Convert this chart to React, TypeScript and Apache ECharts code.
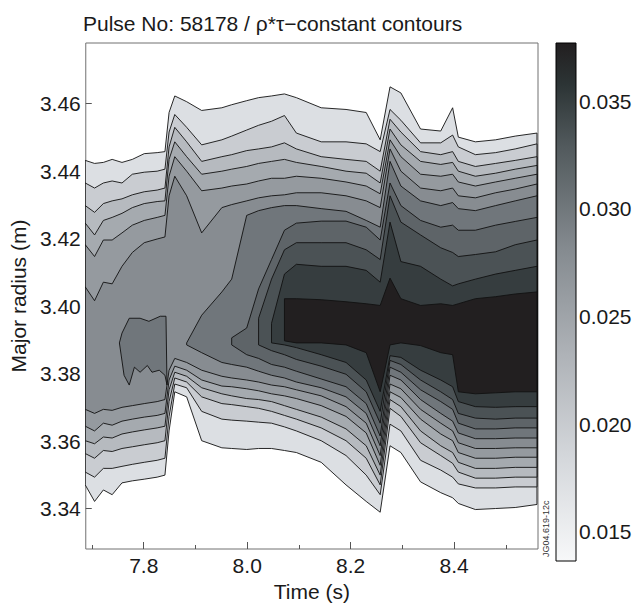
import React, { useEffect, useRef } from "react";
import * as echarts from "echarts";

// ---------------- data ----------------
const TIMES = [7.687, 7.705, 7.722, 7.739, 7.758, 7.778, 7.801, 7.826, 7.841, 7.849, 7.86, 7.883, 7.912, 7.951, 7.97, 7.999, 8.022, 8.047, 8.072, 8.095, 8.143, 8.191, 8.23, 8.257, 8.276, 8.297, 8.335, 8.374, 8.397, 8.408, 8.441, 8.48, 8.518, 8.56];

// upper boundaries (major radius, m) of each contour level region
const UPPER_L1 = [3.4432, 3.4423, 3.4426, 3.4435, 3.4426, 3.4435, 3.4452, 3.4455, 3.4458, 3.4574, 3.4623, 3.4606, 3.458, 3.4588, 3.4597, 3.4609, 3.4618, 3.4623, 3.4629, 3.4618, 3.4588, 3.4583, 3.4574, 3.4493, 3.465, 3.4632, 3.4525, 3.4519, 3.4588, 3.4501, 3.4487, 3.4493, 3.4504, 3.4513];
const UPPER_L2 = [3.4365, 3.435, 3.4365, 3.4371, 3.4365, 3.4391, 3.4397, 3.44, 3.4406, 3.4516, 3.4568, 3.453, 3.4478, 3.4493, 3.4504, 3.4522, 3.4536, 3.4548, 3.4565, 3.4513, 3.4487, 3.4487, 3.4481, 3.4458, 3.4583, 3.4551, 3.4484, 3.4484, 3.4507, 3.4472, 3.4449, 3.4455, 3.4466, 3.4481];
const UPPER_L3 = [3.4298, 3.4278, 3.4304, 3.4312, 3.4318, 3.433, 3.4339, 3.4344, 3.435, 3.4472, 3.453, 3.4487, 3.4429, 3.4443, 3.4449, 3.4461, 3.4466, 3.4472, 3.4484, 3.4466, 3.4443, 3.4435, 3.4429, 3.44, 3.4554, 3.4516, 3.4458, 3.4449, 3.4458, 3.4429, 3.4414, 3.4423, 3.4432, 3.4443];
const UPPER_L4 = [3.4246, 3.4211, 3.4254, 3.4263, 3.4275, 3.4292, 3.4304, 3.431, 3.4312, 3.4435, 3.4487, 3.4443, 3.4391, 3.44, 3.4406, 3.4414, 3.4423, 3.4429, 3.4435, 3.4426, 3.4414, 3.44, 3.4394, 3.4365, 3.4525, 3.4478, 3.4429, 3.442, 3.4426, 3.44, 3.4385, 3.4394, 3.4406, 3.4417];
const UPPER_L5 = [3.4182, 3.4147, 3.4196, 3.4196, 3.4217, 3.424, 3.4254, 3.4263, 3.4269, 3.4385, 3.4443, 3.44, 3.4342, 3.435, 3.4356, 3.4362, 3.4371, 3.4379, 3.4379, 3.4385, 3.4379, 3.4368, 3.4356, 3.4333, 3.4493, 3.4443, 3.4391, 3.4385, 3.4391, 3.4368, 3.4356, 3.4368, 3.4379, 3.4391];
const UPPER_L6 = [3.4057, 3.4016, 3.4071, 3.4066, 3.4118, 3.4159, 3.4188, 3.4199, 3.4205, 3.4327, 3.4385, 3.4327, 3.4217, 3.4292, 3.4301, 3.4312, 3.4321, 3.4327, 3.433, 3.4336, 3.4336, 3.4327, 3.4312, 3.4292, 3.4466, 3.44, 3.435, 3.4342, 3.435, 3.4327, 3.4321, 3.4336, 3.4347, 3.4362];
const UPPER_L7 = [null, null, null, null, null, null, null, null, null, null, null, 3.3891, 3.3973, 3.4042, 3.408, 3.4269, 3.4283, 3.4292, 3.4298, 3.4298, 3.4289, 3.4281, 3.4254, 3.4234, 3.4429, 3.4356, 3.4312, 3.4298, 3.4307, 3.4289, 3.4283, 3.4298, 3.4312, 3.4327];
const UPPER_L8 = [null, null, null, null, null, null, null, null, null, null, null, null, null, null, 3.3906, 3.3935, 3.4051, 3.4138, 3.4225, 3.4246, 3.4252, 3.4252, 3.4234, 3.4196, 3.4365, 3.4298, 3.4254, 3.4234, 3.424, 3.4225, 3.4225, 3.424, 3.4251, 3.4263];
const UPPER_L9 = [null, null, null, null, null, null, null, null, null, null, null, null, null, null, null, null, 3.3964, 3.408, 3.4167, 3.4188, 3.4188, 3.4188, 3.4167, 3.4138, 3.4327, 3.4249, 3.4211, 3.4173, 3.4159, 3.4147, 3.4153, 3.4161, 3.4182, 3.4196];
const UPPER_L10 = [null, null, null, null, null, null, null, null, null, null, null, null, null, null, null, null, null, 3.3949, 3.4095, 3.4124, 3.4118, 3.4118, 3.4106, 3.4071, 3.4249, 3.4132, 3.4118, 3.408, 3.406, 3.4066, 3.408, 3.4095, 3.4106, 3.4118];
const UPPER_L11 = [null, null, null, null, null, null, null, null, null, null, null, null, null, null, null, null, null, null, 3.4022, 3.4022, 3.4019, 3.4013, 3.4007, 3.4002, 3.4083, 3.4022, 3.4002, 3.4007, 3.4002, 3.4007, 3.4022, 3.4028, 3.4036, 3.4042];

// lower boundaries
const LOWER_L1 = [3.347, 3.3421, 3.3455, 3.3441, 3.3476, 3.3482, 3.3487, 3.3493, 3.3499, 3.363, 3.3746, 3.3731, 3.3601, 3.358, 3.3578, 3.3575, 3.3578, 3.3578, 3.3572, 3.3566, 3.3537, 3.347, 3.3421, 3.3389, 3.3586, 3.3566, 3.3479, 3.3447, 3.3432, 3.3415, 3.3397, 3.34, 3.3403, 3.3412];
const LOWER_L2 = [3.3508, 3.3493, 3.3519, 3.3519, 3.3525, 3.3531, 3.3537, 3.3543, 3.3549, 3.3673, 3.3769, 3.3758, 3.3688, 3.3665, 3.3662, 3.3659, 3.3656, 3.3653, 3.3642, 3.363, 3.3601, 3.3557, 3.3499, 3.3441, 3.365, 3.363, 3.3543, 3.3514, 3.3493, 3.3473, 3.3461, 3.3461, 3.3464, 3.3464];
const LOWER_L3 = [3.3563, 3.3549, 3.3572, 3.3569, 3.3578, 3.3583, 3.3589, 3.3595, 3.3601, 3.3717, 3.3787, 3.3775, 3.3731, 3.3711, 3.3708, 3.3702, 3.3697, 3.3688, 3.3676, 3.3665, 3.3639, 3.3601, 3.3549, 3.347, 3.3697, 3.3673, 3.3595, 3.3557, 3.3534, 3.3508, 3.349, 3.349, 3.3493, 3.3493];
const LOWER_L4 = [3.3601, 3.3592, 3.3612, 3.3609, 3.3621, 3.3627, 3.3633, 3.3639, 3.3644, 3.3752, 3.3804, 3.3792, 3.3758, 3.374, 3.3734, 3.3726, 3.3723, 3.3717, 3.3705, 3.3694, 3.3671, 3.3636, 3.3586, 3.3499, 3.3723, 3.3702, 3.363, 3.3586, 3.3566, 3.3537, 3.3519, 3.3519, 3.3522, 3.3522];
const LOWER_L5 = [3.3644, 3.363, 3.3653, 3.3647, 3.3659, 3.3665, 3.3671, 3.3676, 3.3682, 3.3781, 3.3822, 3.381, 3.3781, 3.3763, 3.3761, 3.3755, 3.3749, 3.374, 3.3734, 3.3726, 3.3705, 3.3673, 3.3624, 3.3528, 3.3746, 3.3729, 3.3665, 3.3621, 3.3601, 3.3566, 3.3549, 3.3549, 3.3552, 3.3552];
const LOWER_L6 = [3.3694, 3.3682, 3.3694, 3.3691, 3.37, 3.3705, 3.3711, 3.3717, 3.3723, 3.381, 3.3845, 3.3833, 3.381, 3.3792, 3.3787, 3.3781, 3.3775, 3.3766, 3.3761, 3.3752, 3.3734, 3.3702, 3.3653, 3.3557, 3.3769, 3.3755, 3.3694, 3.3653, 3.363, 3.3595, 3.3578, 3.3578, 3.358, 3.358];
const LOWER_L7 = [null, null, null, null, null, null, null, null, null, null, null, 3.3885, 3.3862, 3.3833, 3.3827, 3.3819, 3.3807, 3.3795, 3.3787, 3.3775, 3.3758, 3.3731, 3.3682, 3.3586, 3.3795, 3.3781, 3.3723, 3.3682, 3.3659, 3.3624, 3.3607, 3.3607, 3.3609, 3.3609];
const LOWER_L8 = [null, null, null, null, null, null, null, null, null, null, null, null, null, null, 3.3885, 3.3856, 3.3845, 3.3827, 3.3819, 3.3807, 3.3784, 3.3761, 3.3711, 3.3615, 3.3819, 3.3804, 3.3752, 3.3717, 3.3694, 3.3653, 3.3636, 3.3636, 3.3639, 3.3639];
const LOWER_L9 = [null, null, null, null, null, null, null, null, null, null, null, null, null, null, null, null, 3.3885, 3.3868, 3.3856, 3.3842, 3.3822, 3.3798, 3.3746, 3.3653, 3.3839, 3.3827, 3.3781, 3.3746, 3.3723, 3.3682, 3.3668, 3.3665, 3.3668, 3.3668];
const LOWER_L10 = [null, null, null, null, null, null, null, null, null, null, null, null, null, null, null, null, null, 3.3891, 3.3885, 3.3877, 3.3856, 3.3833, 3.3781, 3.3688, 3.3853, 3.3848, 3.381, 3.3781, 3.3761, 3.3717, 3.3702, 3.37, 3.3702, 3.3702];
const LOWER_L11 = [null, null, null, null, null, null, null, null, null, null, null, null, null, null, null, null, null, null, 3.3897, 3.3891, 3.3891, 3.3885, 3.3862, 3.3746, 3.3885, 3.3891, 3.3883, 3.3862, 3.3856, 3.3746, 3.374, 3.3743, 3.3746, 3.3746];

// closed island of level 7 before the jump (time, radius)
const ISLAND_L7 = [[7.753, 3.3891], [7.758, 3.392], [7.772, 3.3964], [7.793, 3.3964], [7.81, 3.3955], [7.832, 3.397], [7.843, 3.397], [7.845, 3.3766], [7.841, 3.3795], [7.83, 3.381], [7.816, 3.3804], [7.807, 3.3824], [7.793, 3.3804], [7.782, 3.3819], [7.772, 3.3766], [7.762, 3.3795]];

const CONTOUR_LEVELS = [0.016, 0.018, 0.02, 0.022, 0.024, 0.026, 0.028, 0.03, 0.032, 0.034, 0.036];
const COLORBAR_RANGE = [0.01365, 0.0377];
const COLORBAR_TICKS = [0.015, 0.02, 0.025, 0.03, 0.035];
const X_MAJOR = [7.8, 8.0, 8.2, 8.4];
const X_MINOR = [7.7, 7.9, 8.1, 8.3, 8.5];
const Y_TICKS = [3.34, 3.36, 3.38, 3.4, 3.42, 3.44, 3.46];
const X_RANGE = [7.688, 8.562];
const Y_RANGE = [3.328, 3.478];

// ---------------- styles ----------------
const BAND_COLORS = ["#dcdfe3", "#c9ccd1", "#b6babf", "#a5aaaf", "#959a9f", "#878c91", "#70767b", "#5e6468", "#4b5255", "#363d3f", "#221f20"];
const COLORBAR_STOPS = [
  { offset: 0, color: "#221f20" },
  { offset: 0.08, color: "#2c3435" },
  { offset: 0.2, color: "#525a5d" },
  { offset: 0.4, color: "#858b90" },
  { offset: 0.6, color: "#aeb2b7" },
  { offset: 0.8, color: "#d4d7db" },
  { offset: 1, color: "#f7f8f9" },
];
const FONT = "'Liberation Sans', Arial, Helvetica, sans-serif";
const TEXT_COLOR = "#1a1a1a";
const FS = 21;

const UPPERS = [UPPER_L1, UPPER_L2, UPPER_L3, UPPER_L4, UPPER_L5, UPPER_L6, UPPER_L7, UPPER_L8, UPPER_L9, UPPER_L10, UPPER_L11];
const LOWERS = [LOWER_L1, LOWER_L2, LOWER_L3, LOWER_L4, LOWER_L5, LOWER_L6, LOWER_L7, LOWER_L8, LOWER_L9, LOWER_L10, LOWER_L11];

type Poly = { level: number; pts: number[][] };

function buildPolygons(): Poly[] {
  const polys: Poly[] = [];
  for (let k = 0; k < CONTOUR_LEVELS.length; k++) {
    const up = UPPERS[k];
    const lo = LOWERS[k];
    const top: number[][] = [];
    const bottom: number[][] = [];
    for (let i = 0; i < TIMES.length; i++) {
      if (up[i] == null || lo[i] == null) continue;
      top.push([TIMES[i], up[i] as number]);
      bottom.push([TIMES[i], lo[i] as number]);
    }
    polys.push({ level: k, pts: top.concat(bottom.reverse()) });
    if (k === 6) polys.push({ level: 6, pts: ISLAND_L7 });
  }
  return polys;
}

export default function App() {
  const ref = useRef<HTMLDivElement>(null);
  useEffect(() => {
    if (!ref.current) return;
    const chart = echarts.init(ref.current, null, { renderer: "svg" });
    const polys = buildPolygons();
    const option: any = {
      animation: false,
      backgroundColor: "#ffffff",
      textStyle: { fontFamily: FONT },
      title: {
        text: "Pulse No: 58178 / ρ*τ−constant contours",
        left: 83,
        top: 13,
        padding: 0,
        textStyle: { fontSize: FS, fontWeight: "normal", color: TEXT_COLOR, fontFamily: FONT },
      },
      grid: [
        { left: 83, top: 43, width: 455, height: 518, show: true, borderColor: "#707070", borderWidth: 1, backgroundColor: "#ffffff" },
        { left: 556, top: 43, width: 20, height: 518, show: false },
      ],
      xAxis: [
        {
          gridIndex: 0, type: "value", min: X_RANGE[0], max: X_RANGE[1], position: "bottom",
          name: "Time (s)", nameLocation: "middle", nameGap: 32,
          nameTextStyle: { fontSize: FS, color: TEXT_COLOR, fontFamily: FONT },
          axisLine: { show: false }, splitLine: { show: false },
          axisTick: { show: true, inside: true, length: 7, customValues: X_MAJOR, lineStyle: { color: "#555" } },
          axisLabel: { customValues: X_MAJOR, formatter: (v: number) => v.toFixed(1), fontSize: FS, color: TEXT_COLOR, margin: 6, fontFamily: FONT },
        },
        {
          gridIndex: 0, type: "value", min: X_RANGE[0], max: X_RANGE[1], position: "bottom",
          axisLine: { show: false }, splitLine: { show: false },
          axisTick: { show: true, inside: true, length: 4, customValues: X_MINOR, lineStyle: { color: "#555" } },
          axisLabel: { show: false },
        },
        { gridIndex: 1, type: "value", min: 0, max: 1, show: false },
      ],
      yAxis: [
        {
          gridIndex: 0, type: "value", min: Y_RANGE[0], max: Y_RANGE[1],
          name: "Major radius (m)", nameLocation: "middle", nameGap: 53,
          nameTextStyle: { fontSize: FS, color: TEXT_COLOR, fontFamily: FONT },
          axisLine: { show: false }, splitLine: { show: false },
          axisTick: { show: true, inside: true, length: 6, customValues: Y_TICKS, lineStyle: { color: "#555" } },
          axisLabel: { customValues: Y_TICKS, formatter: (v: number) => v.toFixed(2), fontSize: FS, color: TEXT_COLOR, margin: 5, fontFamily: FONT },
        },
        {
          gridIndex: 1, type: "value", min: COLORBAR_RANGE[0], max: COLORBAR_RANGE[1], position: "right",
          axisLine: { show: false }, splitLine: { show: false },
          axisTick: { show: true, inside: false, length: 5, customValues: COLORBAR_TICKS, lineStyle: { color: "#000" } },
          axisLabel: { customValues: COLORBAR_TICKS, formatter: (v: number) => v.toFixed(3), fontSize: FS, color: TEXT_COLOR, margin: 3, fontFamily: FONT },
        },
      ],
      graphic: [
        {
          type: "text", x: 546, y: 557, rotation: Math.PI / 2,
          style: { text: "JG04.619-12c", fontSize: 9, fill: "#333", fontFamily: FONT, textAlign: "left", textVerticalAlign: "middle" },
        },
      ],
      series: [
        {
          type: "custom",
          xAxisIndex: 0,
          yAxisIndex: 0,
          coordinateSystem: "cartesian2d",
          clip: true,
          silent: true,
          data: polys.map((p) => p.pts[0]),
          encode: { x: 0, y: 1 },
          renderItem: (params: any, api: any) => {
            const p = polys[params.dataIndex];
            const pts = p.pts.map((q) => api.coord(q));
            return {
              type: "polygon",
              shape: { points: pts },
              style: { fill: BAND_COLORS[p.level], stroke: "#111", lineWidth: 0.9, lineJoin: "round" },
            };
          },
        },
        {
          type: "custom",
          xAxisIndex: 2,
          yAxisIndex: 1,
          coordinateSystem: "cartesian2d",
          silent: true,
          data: [[0, COLORBAR_RANGE[1]]],
          renderItem: (params: any, api: any) => {
            const a = api.coord([0, COLORBAR_RANGE[1]]);
            const b = api.coord([1, COLORBAR_RANGE[0]]);
            return {
              type: "rect",
              shape: { x: a[0], y: a[1], width: b[0] - a[0], height: b[1] - a[1] },
              style: { fill: new echarts.graphic.LinearGradient(0, 0, 0, 1, COLORBAR_STOPS), stroke: "#000", lineWidth: 1 },
            };
          },
        },
      ],
    };
    chart.setOption(option);
    return () => chart.dispose();
  }, []);
  return <div ref={ref} style={{ position: "absolute", left: 0, top: 0, width: 635, height: 607 }} />;
}
